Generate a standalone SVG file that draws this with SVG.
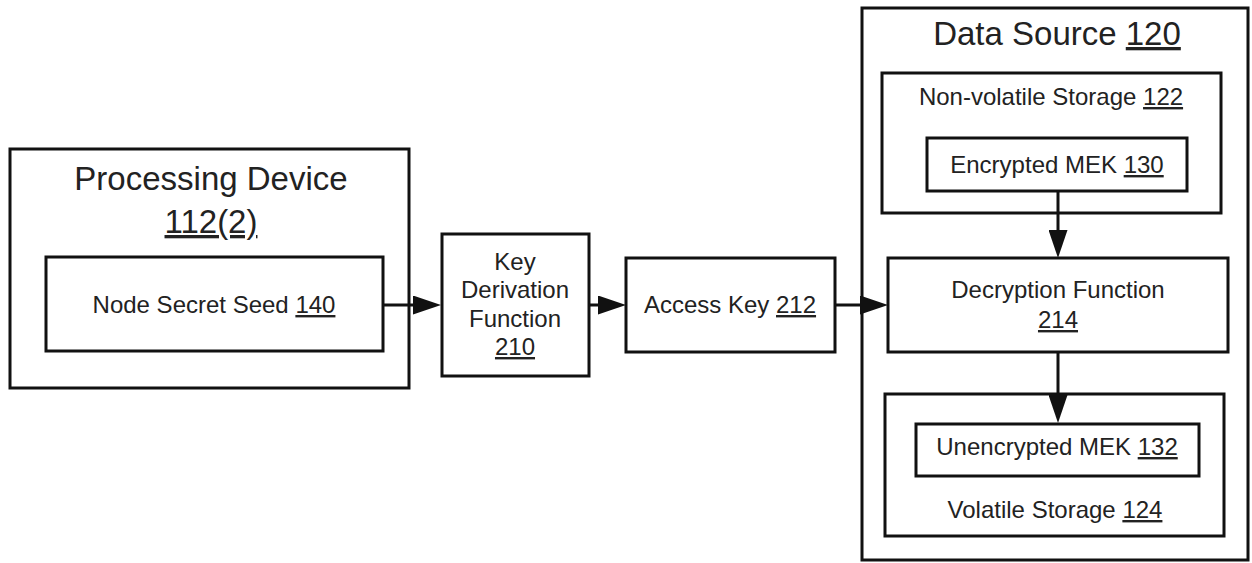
<svg xmlns="http://www.w3.org/2000/svg" width="1252" height="563" viewBox="0 0 1252 563">
<style>
  .box { fill: #ffffff; stroke: #111111; stroke-width: 3; }
  .t { font-family: "Liberation Sans", Arial, sans-serif; font-size: 24px; fill: #222222; text-anchor: middle; }
  .big { font-size: 33px; }
  .u { text-decoration: underline; }
  .conn { stroke: #111111; stroke-width: 3; fill: none; }
</style>
<defs>
  <marker id="arrow" markerUnits="userSpaceOnUse" markerWidth="28" markerHeight="19" refX="22" refY="9.5" orient="auto">
    <path d="M0,0 L28,9.5 L0,19 Z" fill="#111111"/>
  </marker>
</defs>
<rect width="1252" height="563" fill="#ffffff"/>

<g id="processing-device">
  <rect class="box" x="10" y="149" width="399" height="239"/>
  <text class="t big" x="211" y="190">Processing Device</text>
  <text class="t big" x="211" y="233"><tspan class="u">112(2)</tspan></text>
</g>
<g id="node-secret-seed">
  <rect class="box" x="46" y="257" width="337" height="94"/>
  <text class="t" x="214" y="313">Node Secret Seed <tspan class="u">140</tspan></text>
</g>
<g id="key-derivation-function">
  <rect class="box" x="442" y="234" width="147" height="142"/>
  <text class="t" x="515" y="270">Key</text>
  <text class="t" x="515" y="298">Derivation</text>
  <text class="t" x="515" y="327">Function</text>
  <text class="t" x="515" y="355"><tspan class="u">210</tspan></text>
</g>
<g id="access-key">
  <rect class="box" x="626" y="258" width="209" height="94"/>
  <text class="t" x="730" y="313">Access Key <tspan class="u">212</tspan></text>
</g>
<g id="data-source">
  <rect class="box" x="862" y="8" width="386" height="552"/>
  <text class="t big" x="1057" y="45">Data Source <tspan class="u">120</tspan></text>
</g>
<g id="non-volatile-storage">
  <rect class="box" x="882" y="73" width="339" height="140"/>
  <text class="t" x="1051" y="105">Non-volatile Storage <tspan class="u">122</tspan></text>
</g>
<g id="encrypted-mek">
  <rect class="box" x="927" y="138" width="260" height="53"/>
  <text class="t" x="1057" y="173">Encrypted MEK <tspan class="u">130</tspan></text>
</g>
<g id="decryption-function">
  <rect class="box" x="888" y="258" width="340" height="94"/>
  <text class="t" x="1058" y="298">Decryption Function</text>
  <text class="t" x="1058" y="328"><tspan class="u">214</tspan></text>
</g>
<g id="volatile-storage">
  <rect class="box" x="885" y="394" width="339" height="142"/>
  <text class="t" x="1055" y="518">Volatile Storage <tspan class="u">124</tspan></text>
</g>
<g id="unencrypted-mek">
  <rect class="box" x="916" y="424" width="283" height="52"/>
  <text class="t" x="1057" y="455">Unencrypted MEK <tspan class="u">132</tspan></text>
</g>

<g id="connectors">
  <path class="conn" d="M383,305 L435,305" marker-end="url(#arrow)"/>
  <path class="conn" d="M589,305 L620,305" marker-end="url(#arrow)"/>
  <path class="conn" d="M835,305 L882,305" marker-end="url(#arrow)"/>
  <path class="conn" d="M1058,191 L1058,252" marker-end="url(#arrow)"/>
  <path class="conn" d="M1058,352 L1058,417" marker-end="url(#arrow)"/>
</g>
</svg>
